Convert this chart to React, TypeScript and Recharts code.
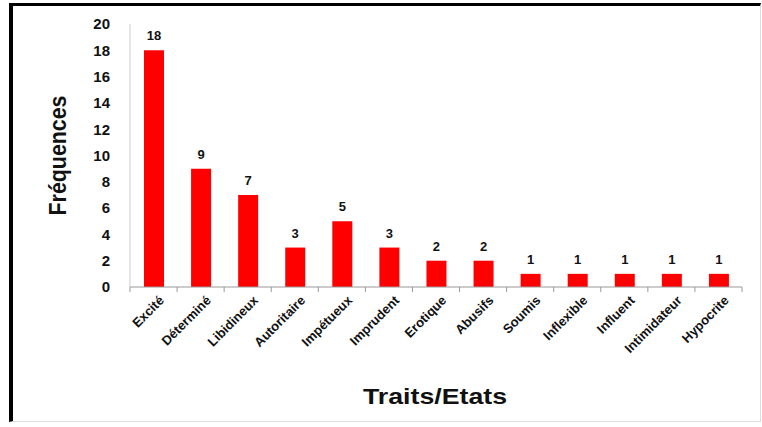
import React from 'react';
import { BarChart, Bar, XAxis, YAxis, LabelList } from 'recharts';

const traits = [
  'Excité', 'Déterminé', 'Libidineux', 'Autoritaire', 'Impétueux', 'Imprudent',
  'Erotique', 'Abusifs', 'Soumis', 'Inflexible', 'Influent', 'Intimidateur', 'Hypocrite',
];
const frequences = [18, 9, 7, 3, 5, 3, 2, 2, 1, 1, 1, 1, 1];
const yTicks = [0, 2, 4, 6, 8, 10, 12, 14, 16, 18, 20];

const data = traits.map((name, i) => ({ name, value: frequences[i] }));

const FONT = '"Liberation Sans", Arial, sans-serif';

const TraitTick = ({ x, y, payload, index, visibleTicksCount }: any) => {
  const half = payload?.offset ?? 23.5;
  const last = index === (visibleTicksCount ?? traits.length) - 1;
  return (
    <g>
      <line x1={x - half} y1={y - 8} x2={x - half} y2={y - 3} stroke="#999" />
      {last && <line x1={x + half} y1={y - 8} x2={x + half} y2={y - 3} stroke="#999" />}
      <g transform={`translate(${x + 8},${y + 3})`}>
        <text
          textAnchor="end"
          transform="rotate(-45)"
          fontFamily={FONT}
          fontWeight="bold"
          fontSize={13}
          fill="#111"
          dy="0.35em"
        >
          {payload.value}
        </text>
      </g>
    </g>
  );
};

const YTitle = ({ viewBox }: any) => {
  const cx = viewBox.x - 33;
  const cy = viewBox.y + viewBox.height / 2;
  return (
    <text
      x={cx}
      y={cy}
      transform={`rotate(-90, ${cx}, ${cy})`}
      textAnchor="middle"
      dominantBaseline="central"
      fontFamily={FONT}
      fontWeight="bold"
      fontSize={24}
      textLength={120}
      lengthAdjust="spacingAndGlyphs"
      fill="#111"
    >
      Fréquences
    </text>
  );
};

const XTitle = ({ viewBox }: any) => (
  <text
    x={viewBox.x + viewBox.width / 2 - 1}
    y={viewBox.y + 117}
    textAnchor="middle"
    fontFamily={FONT}
    fontWeight="bold"
    fontSize={22}
    textLength={144}
    lengthAdjust="spacingAndGlyphs"
    fill="#111"
  >
    Traits/Etats
  </text>
);

export default function App() {
  return (
    <div style={{ position: 'absolute', left: 0, top: 0, width: 762, height: 427, background: '#fff' }}>
      <div
        style={{
          position: 'absolute',
          left: 9,
          top: 3,
          width: 747,
          height: 415,
          borderTop: '3px solid #000',
          borderLeft: '4px solid #000',
          borderRight: '1px solid #ddd',
          borderBottom: '1px solid #ddd',
        }}
      />
      <div style={{ position: 'absolute', left: 0, top: 0 }}>
        <BarChart
          width={762}
          height={427}
          data={data}
          margin={{ top: 24, right: 20, bottom: 0, left: 90 }}
          barCategoryGap={0}
        >
          <XAxis
            dataKey="name"
            interval={0}
            height={140}
            tickLine={false}
            axisLine={{ stroke: '#999' }}
            tick={<TraitTick />}
            label={<XTitle />}
          />
          <YAxis
            domain={[0, 20]}
            ticks={yTicks}
            interval={0}
            width={40}
            tickLine={false}
            tickMargin={14}
            axisLine={{ stroke: '#ccc' }}
            tick={{ fontFamily: FONT, fontWeight: 'bold', fontSize: 15, fill: '#111' }}
            label={<YTitle />}
          />
          <Bar dataKey="value" fill="#ff0000" barSize={20} isAnimationActive={false}>
            <LabelList
              dataKey="value"
              position="top"
              offset={10}
              fontFamily={FONT}
              fontWeight="bold"
              fontSize={13}
              fill="#111"
            />
          </Bar>
        </BarChart>
      </div>
    </div>
  );
}
